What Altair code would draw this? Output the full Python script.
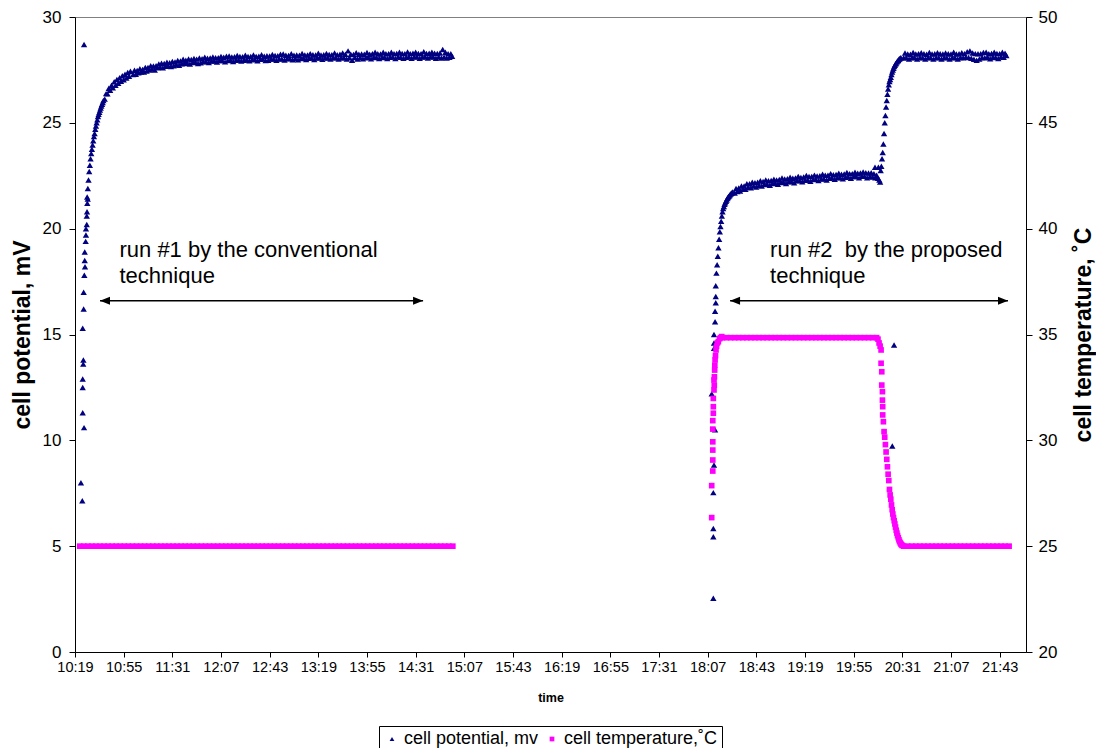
import altair as alt
import pandas as pd

FONT = "Liberation Sans"
SERIES = ["cell potential, mv", "cell temperature,˚C"]
COLORS = ["#000080", "#FF00FF"]
SHAPES = ["triangle-up", "square"]

TICK_LABELS = ["10:19", "10:55", "11:31", "12:07", "12:43", "13:19", "13:55",
               "14:31", "15:07", "15:43", "16:19", "16:55", "17:31", "18:07",
               "18:43", "19:19", "19:55", "20:31", "21:07", "21:43"]
TIME_AXIS_END = 1322.5          # minutes after midnight (22:02:30)
MV_TICKS = [0, 5, 10, 15, 20, 25, 30]
DEGC_TICKS = [20, 25, 30, 35, 40, 45, 50]

# ---------------- cell potential, mV (times in minutes after midnight) -------
# run #1: first scattered readings while the cell settles
pot1_early_t = [623.4, 624.4, 625.7, 624.7, 624.7, 624.7, 625.1, 625.2, 624.7, 625.4,
                625.4, 625.9, 626.4, 626.2, 626.2, 626.9, 627.1, 627.1, 627.7, 627.7,
                627.9, 628.1, 628.4, 625.7]
pot1_early_v = [8.0, 7.15, 10.6, 11.3, 12.5, 12.9, 13.6, 13.8, 15.3, 16.2,
                17.0, 17.8, 18.2, 18.5, 18.9, 19.4, 19.7, 20.0, 20.2, 20.6,
                20.8, 21.2, 21.4, 28.7]
# run #1: logged every 0.5 min from 628.0
pot1_rise = [21.5, 21.9, 22.3, 22.7, 23.0, 23.3, 23.55, 23.75, 23.95, 24.15,
             24.35, 24.5, 24.7, 24.85, 25.0, 25.15, 25.3, 25.4, 25.5, 25.6,
             25.7, 25.8, 25.88, 25.96, 26.05]
# run #1: logged every 1 min from 641
pot1_knee = [26.12, 26.38, 26.37, 26.63, 26.54, 26.78, 26.66, 26.94, 26.77, 27.05,
             26.87, 27.13, 26.96, 27.22, 27.04, 27.30, 27.12, 27.38, 27.20, 27.44]
# run #1: logged every 1 min from 662
pot1_plateau = [
    27.28, 27.48, 27.30, 27.47, 27.37, 27.55, 27.40, 27.52, 27.40, 27.62,
    27.45, 27.62, 27.50, 27.70, 27.54, 27.68, 27.50, 27.70, 27.60, 27.78,
    27.62, 27.82, 27.60, 27.80, 27.67, 27.86, 27.69, 27.84, 27.66, 27.90,
    27.70, 27.88, 27.75, 27.95, 27.72, 27.92, 27.79, 28.00, 27.80, 27.96,
    27.82, 28.02, 27.78, 27.99, 27.85, 28.04, 27.86, 28.01, 27.80, 28.06,
    27.84, 28.03, 27.89, 28.10, 27.90, 28.05, 27.85, 28.06, 27.92, 28.11,
    27.92, 28.07, 27.87, 28.08, 27.94, 28.14, 27.95, 28.10, 27.88, 28.15,
    27.95, 28.16, 27.96, 28.11, 27.90, 28.12, 27.96, 28.18, 27.97, 28.13,
    27.92, 28.12, 27.96, 28.19, 27.98, 28.13, 27.93, 28.14, 27.98, 28.20,
    28.00, 28.14, 27.93, 28.15, 28.00, 28.22, 28.01, 28.15, 27.95, 28.17,
    27.96, 28.16, 28.02, 28.23, 28.01, 28.18, 27.96, 28.17, 28.02, 28.24,
    28.03, 28.25, 27.97, 28.19, 28.04, 28.18, 28.03, 28.26, 27.98, 28.19,
    28.04, 28.20, 27.98, 28.19, 28.04, 28.28, 28.05, 28.20, 27.99, 28.21,
    28.05, 28.27, 28.06, 28.22, 27.99, 28.21, 28.06, 28.29, 28.07, 28.21,
    28.00, 28.22, 28.07, 28.28, 28.06, 28.23, 28.01, 28.22, 28.08, 28.30,
    28.07, 28.22, 28.01, 28.24, 28.07, 28.30, 28.08, 28.24, 28.02, 28.40,
    28.08, 28.24, 27.96, 28.23, 28.09, 28.31, 28.02, 28.24, 28.09, 28.25,
    28.03, 28.24, 28.08, 28.32, 28.10, 28.24, 28.03, 28.26, 28.10, 28.33,
    28.09, 28.26, 28.04, 28.25, 28.09, 28.34, 28.10, 28.26, 28.04, 28.27,
    28.10, 28.33, 28.11, 28.27, 28.04, 28.28, 28.11, 28.34, 28.10, 28.28,
    28.05, 28.27, 28.10, 28.35, 28.12, 28.27, 28.05, 28.29, 28.12, 28.34,
    28.11, 28.28, 28.05, 28.27, 28.11, 28.36, 28.12, 28.28, 28.06, 28.29,
    28.12, 28.34, 28.11, 28.29, 28.05, 28.28, 28.11, 28.30, 28.06, 28.46,
    28.11, 28.33, 28.06, 28.27, 28.10, 28.26, 28.14]

# run #2: first scattered readings
pot2_early_t = [1091.2, 1091.2, 1091.2, 1091.2, 1091.7, 1092.5, 1090.0, 1091.7, 1091.7,
                1091.7, 1092.5, 1092.5, 1093.0, 1093.0, 1093.0]
pot2_early_v = [2.54, 5.45, 5.84, 7.53, 8.83, 10.5, 12.2, 14.35, 14.6,
                15.0, 15.6, 16.1, 16.5, 16.8, 17.3]
# run #2: logged every 0.5 min from 1093.5
pot2_rise = [17.9, 18.3, 18.7, 19.1, 19.5, 19.85, 20.1, 20.35, 20.6, 20.8,
             20.95, 21.05, 21.15, 21.22, 21.3, 21.35, 21.42, 21.47, 21.52, 21.56,
             21.6, 21.64, 21.67, 21.7, 21.73]
# run #2: logged every 1 min from 1107 (heated cell)
pot2_heated = [
    21.68, 21.90, 21.76, 21.92, 21.78, 22.02, 21.86, 22.02, 21.86, 22.12,
    21.96, 22.12, 21.93, 22.19, 22.01, 22.17, 21.97, 22.19, 22.05, 22.26,
    22.02, 22.23, 22.09, 22.30, 22.10, 22.26, 22.05, 22.28, 22.13, 22.34,
    22.15, 22.30, 22.10, 22.32, 22.18, 22.39, 22.19, 22.35, 22.13, 22.36,
    22.22, 22.43, 22.23, 22.38, 22.17, 22.40, 22.26, 22.47, 22.27, 22.42,
    22.22, 22.44, 22.29, 22.51, 22.30, 22.46, 22.24, 22.47, 22.32, 22.53,
    22.33, 22.49, 22.27, 22.50, 22.35, 22.57, 22.36, 22.52, 22.30, 22.53,
    22.38, 22.60, 22.39, 22.55, 22.33, 22.56, 22.41, 22.62, 22.42, 22.57,
    22.36, 22.58, 22.43, 22.65, 22.44, 22.60, 22.38, 22.60, 22.46, 22.66,
    22.46, 22.62, 22.40, 22.63, 22.48, 22.68, 22.47, 22.64, 22.41, 22.63,
    22.46, 22.64, 22.44, 22.60, 22.40, 22.52, 22.38]
# run #2: stray readings around the switch-over
pot2_stray_t = [1210.8, 1213.3, 1214.0, 1214.6, 1223.6, 1224.9]
pot2_stray_v = [22.9, 22.9, 22.3, 22.2, 9.73, 14.5]
# run #2: logged every 0.5 min from 1215 (cooling back)
pot2_step = [22.75, 22.95, 23.3, 23.6, 24.0, 24.5, 25.0, 25.35, 25.75, 26.05,
             26.35, 26.6, 26.8, 26.95, 27.05, 27.15, 27.28, 27.4, 27.5, 27.58,
             27.66, 27.72, 27.78, 27.83, 27.88, 27.92, 27.96, 28.0, 28.03, 28.06,
             28.08]
# run #2: logged every 1 min from 1232
pot2_final = [
    28.08, 28.30, 28.07, 28.25, 28.02, 28.24, 28.08, 28.32, 28.09, 28.25,
    28.02, 28.26, 28.09, 28.31, 28.07, 28.26, 28.02, 28.24, 28.09, 28.32,
    28.07, 28.25, 28.01, 28.26, 28.09, 28.31, 28.07, 28.26, 28.02, 28.25,
    28.09, 28.30, 28.08, 28.26, 28.01, 28.25, 28.09, 28.33, 28.08, 28.25,
    28.02, 28.26, 28.09, 28.31, 28.08, 28.27, 28.10, 28.36, 28.09, 28.40,
    28.05, 28.30, 28.00, 28.27, 27.96, 28.26, 28.02, 28.27, 28.09, 28.32,
    28.08, 28.33, 28.10, 28.26, 28.03, 28.28, 28.10, 28.34, 28.09, 28.28,
    28.04, 28.27, 28.11, 28.33, 28.10, 28.29, 28.18]

# ---------------- cell temperature, ˚C ---------------------------------------
# run #1: logged every 3 min from 622.5
tmp1_flat = [25.0, 25.0, 25.0, 25.0, 25.0, 25.0, 25.0, 25.0, 25.0, 25.0,
             25.0, 25.0, 25.0, 25.0, 25.0, 25.0, 25.0, 25.0, 25.0, 25.0,
             25.0, 25.0, 25.0, 25.0, 25.0, 25.0, 25.0, 25.0, 25.0, 25.0,
             25.0, 25.0, 25.0, 25.0, 25.0, 25.0, 25.0, 25.0, 25.0, 25.0,
             25.0, 25.0, 25.0, 25.0, 25.0, 25.0, 25.0, 25.0, 25.0, 25.0,
             25.0, 25.0, 25.0, 25.0, 25.0, 25.0, 25.0, 25.0, 25.0, 25.0,
             25.0, 25.0, 25.0, 25.0, 25.0, 25.0, 25.0, 25.0, 25.0, 25.0,
             25.0, 25.0, 25.0, 25.0, 25.0, 25.0, 25.0, 25.0, 25.0, 25.0,
             25.0, 25.0, 25.0, 25.0, 25.0, 25.0, 25.0, 25.0, 25.0, 25.0,
             25.0, 25.0, 25.0]
# run #2: heating up
tmp2_rise_t = [1090.0, 1090.0, 1090.8, 1090.8, 1090.8, 1090.8, 1090.8, 1090.8, 1091.2,
               1091.2, 1091.2, 1091.7, 1091.9, 1092.0, 1091.7, 1092.2, 1092.3, 1092.5,
               1092.8, 1093.2, 1093.6, 1094.2, 1094.9, 1095.8, 1096.5, 1097.4]
tmp2_rise_v = [26.35, 27.86, 28.55, 29.07, 29.54, 29.93, 30.53, 30.93, 31.28,
               31.59, 31.98, 32.38, 32.6, 33.0, 32.85, 33.32, 33.55, 33.8,
               34.0, 34.27, 34.45, 34.6, 34.66, 34.8, 34.85, 34.9]
# run #2: logged every 3 min from 1098 (held at ~35 ˚C)
tmp2_hold = [34.85, 34.85, 34.85, 34.85, 34.85, 34.85, 34.85, 34.85, 34.85, 34.85,
             34.85, 34.85, 34.85, 34.85, 34.85, 34.85, 34.85, 34.85, 34.85, 34.85,
             34.85, 34.85, 34.85, 34.85, 34.85, 34.85, 34.85, 34.85, 34.85, 34.85,
             34.85, 34.85, 34.85, 34.85, 34.85, 34.85, 34.85, 34.85, 34.85]
# run #2: heater off
tmp2_fall_t = [1213.0, 1213.8, 1214.6, 1215.3, 1215.3, 1215.8, 1215.8, 1216.3, 1216.3,
               1216.5, 1216.5, 1217.0, 1217.5]
tmp2_fall_v = [34.78, 34.6, 34.45, 34.27, 33.64, 33.24, 32.61, 32.3, 31.9,
               31.59, 31.2, 30.88, 30.41]
# run #2: logged every 0.5 min from 1218
tmp2_cool = [30.15, 29.8, 29.45, 29.1, 28.75, 28.4, 28.1, 27.68, 27.42, 27.22,
             26.95, 26.72, 26.52, 26.35, 26.2, 26.05, 25.9, 25.75, 25.62, 25.5,
             25.4, 25.3, 25.22, 25.15, 25.1, 25.06, 25.03]
# run #2: logged every 3 min from 1232
tmp2_flat = [25.0, 25.0, 25.0, 25.0, 25.0, 25.0, 25.0, 25.0, 25.0, 25.0,
             25.0, 25.0, 25.0, 25.0, 25.0, 25.0, 25.0, 25.0, 25.0, 25.0,
             25.0, 25.0, 25.0, 25.0, 25.0, 25.0, 25.0]

# ---------------- annotations (time in minutes, level in mV) ------------------
NOTE_T = [651.9, 1133.2]
NOTE_V = [18.67, 18.67]
NOTE_TEXT = ["run #1 by the conventional\ntechnique",
             "run #2\u00a0 by the proposed\ntechnique"]
ARROW_T = [637.5, 1103.6]
ARROW_T2 = [876.5, 1309.2]
ARROW_V = [16.6, 16.6]


def logged(t0, step, values):
    """Sampling clock of the data logger for a block of readings."""
    return [t0 + i * step for i in range(len(values))]


def to_minutes(hhmm):
    h, m = hhmm.split(":")
    return int(h) * 60 + int(m)


pot_t = (pot1_early_t + logged(628.0, 0.5, pot1_rise) + logged(641.0, 1.0, pot1_knee)
         + logged(662.0, 1.0, pot1_plateau) + pot2_early_t + logged(1093.5, 0.5, pot2_rise)
         + logged(1107.0, 1.0, pot2_heated) + pot2_stray_t + logged(1215.0, 0.5, pot2_step)
         + logged(1232.0, 1.0, pot2_final))
pot_v = (pot1_early_v + pot1_rise + pot1_knee + pot1_plateau + pot2_early_v + pot2_rise
         + pot2_heated + pot2_stray_v + pot2_step + pot2_final)
tmp_t = (logged(622.5, 3.0, tmp1_flat) + tmp2_rise_t + logged(1098.0, 3.0, tmp2_hold)
         + tmp2_fall_t + logged(1218.0, 0.5, tmp2_cool) + logged(1232.0, 3.0, tmp2_flat))
tmp_v = tmp1_flat + tmp2_rise_v + tmp2_hold + tmp2_fall_v + tmp2_cool + tmp2_flat

pot_df = pd.DataFrame({"t": pot_t, "v": pot_v, "series": SERIES[0]})
tmp_df = pd.DataFrame({"t": tmp_t, "v": tmp_v, "series": SERIES[1]})
note_df = pd.DataFrame({"t": NOTE_T, "v": NOTE_V, "label": NOTE_TEXT})
arrow_df = pd.DataFrame({"t": ARROW_T, "t2": ARROW_T2, "v": ARROW_V})
head_l_df = pd.DataFrame({"t": ARROW_T, "v": ARROW_V})
head_r_df = pd.DataFrame({"t": ARROW_T2, "v": ARROW_V})

tick_vals = [to_minutes(s) for s in TICK_LABELS]

x_enc = alt.X(
    "t:Q",
    scale=alt.Scale(domain=[tick_vals[0], TIME_AXIS_END], nice=False, zero=False),
    axis=alt.Axis(
        values=tick_vals,
        labelExpr="floor(datum.value / 60) + ':' + (datum.value % 60 < 10 ? '0' : '') + (datum.value % 60)",
        title="time", titleFontSize=12.5, titleFontWeight="bold",
        titleX=475.5, titleY=45, titleBaseline="middle", titleAlign="center",
        labelFontSize=14.5, tickSize=5, labelPadding=3, labelFlush=False,
        labelOverlap=False, grid=False,
    ),
)

y_left = alt.Y(
    "v:Q",
    scale=alt.Scale(domain=[0, 30], nice=False, zero=False),
    axis=alt.Axis(
        values=MV_TICKS, title="cell potential, mV", titleFontSize=23,
        titleFontWeight="bold", titleAngle=270, titleX=-53, titleY=317.5,
        titleAlign="center", titleBaseline="middle",
        labelFontSize=17, tickSize=6, labelPadding=8, grid=False,
    ),
)

y_right = alt.Y(
    "v:Q",
    scale=alt.Scale(domain=[20, 50], nice=False, zero=False),
    axis=alt.Axis(
        orient="right", values=DEGC_TICKS, title="cell temperature, ˚C",
        titleFontSize=23, titleFontWeight="bold", titleAngle=270,
        titleX=57, titleY=317.5, titleAlign="center", titleBaseline="middle",
        labelFontSize=17, tickSize=6, labelPadding=6, grid=False,
    ),
)

legend = alt.Legend(
    orient="none", legendX=304, legendY=709, direction="horizontal", title=None,
    strokeColor="black", fillColor="white", padding=4, labelFontSize=18,
    labelFont=FONT, labelColor="black", symbolSize=22, symbolStrokeWidth=0,
    columnPadding=4, labelOffset=3, labelLimit=400,
)
color_enc = alt.Color("series:N", scale=alt.Scale(domain=SERIES, range=COLORS), legend=legend)
shape_enc = alt.Shape("series:N", scale=alt.Scale(domain=SERIES, range=SHAPES), legend=legend)

potential = alt.Chart(pot_df).mark_point(filled=True, opacity=1, size=40).encode(
    x=x_enc, y=y_left, color=color_enc, shape=shape_enc
)
temperature = alt.Chart(tmp_df).mark_point(filled=True, opacity=1, size=32).encode(
    x=x_enc, y=y_right, color=color_enc, shape=shape_enc
)

arrows = alt.Chart(arrow_df).mark_rule(color="black", strokeWidth=1.5).encode(
    x=x_enc, x2="t2:Q", y=y_left
)
heads_left = alt.Chart(head_l_df).mark_point(
    shape="M-1,0L1,-0.8L1,0.8Z", size=100, filled=True, opacity=1, color="black", xOffset=5
).encode(x=x_enc, y=y_left)
heads_right = alt.Chart(head_r_df).mark_point(
    shape="M1,0L-1,-0.8L-1,0.8Z", size=100, filled=True, opacity=1, color="black", xOffset=-5
).encode(x=x_enc, y=y_left)
notes = alt.Chart(note_df).mark_text(
    align="left", baseline="alphabetic", font=FONT, fontSize=22, lineHeight=26,
    lineBreak="\n", color="black"
).encode(x=x_enc, y=y_left, text="label:N")

left_side = alt.layer(potential, arrows, heads_left, heads_right, notes)

chart = (
    alt.layer(left_side, temperature)
    .resolve_scale(y="independent")
    .properties(
        width=951, height=635,
        autosize=alt.AutoSizeParams(type="none"),
        padding={"left": 75, "top": 17, "right": 70, "bottom": 96},
        background="white",
    )
    .configure_view(stroke="#808080", strokeWidth=1)
    .configure_axis(
        labelFont=FONT, titleFont=FONT, labelColor="black", titleColor="black",
        domainColor="black", tickColor="black", domainWidth=1, tickWidth=1,
    )
)

chart.save("out.html", embed_options={"renderer": "svg", "actions": False})
